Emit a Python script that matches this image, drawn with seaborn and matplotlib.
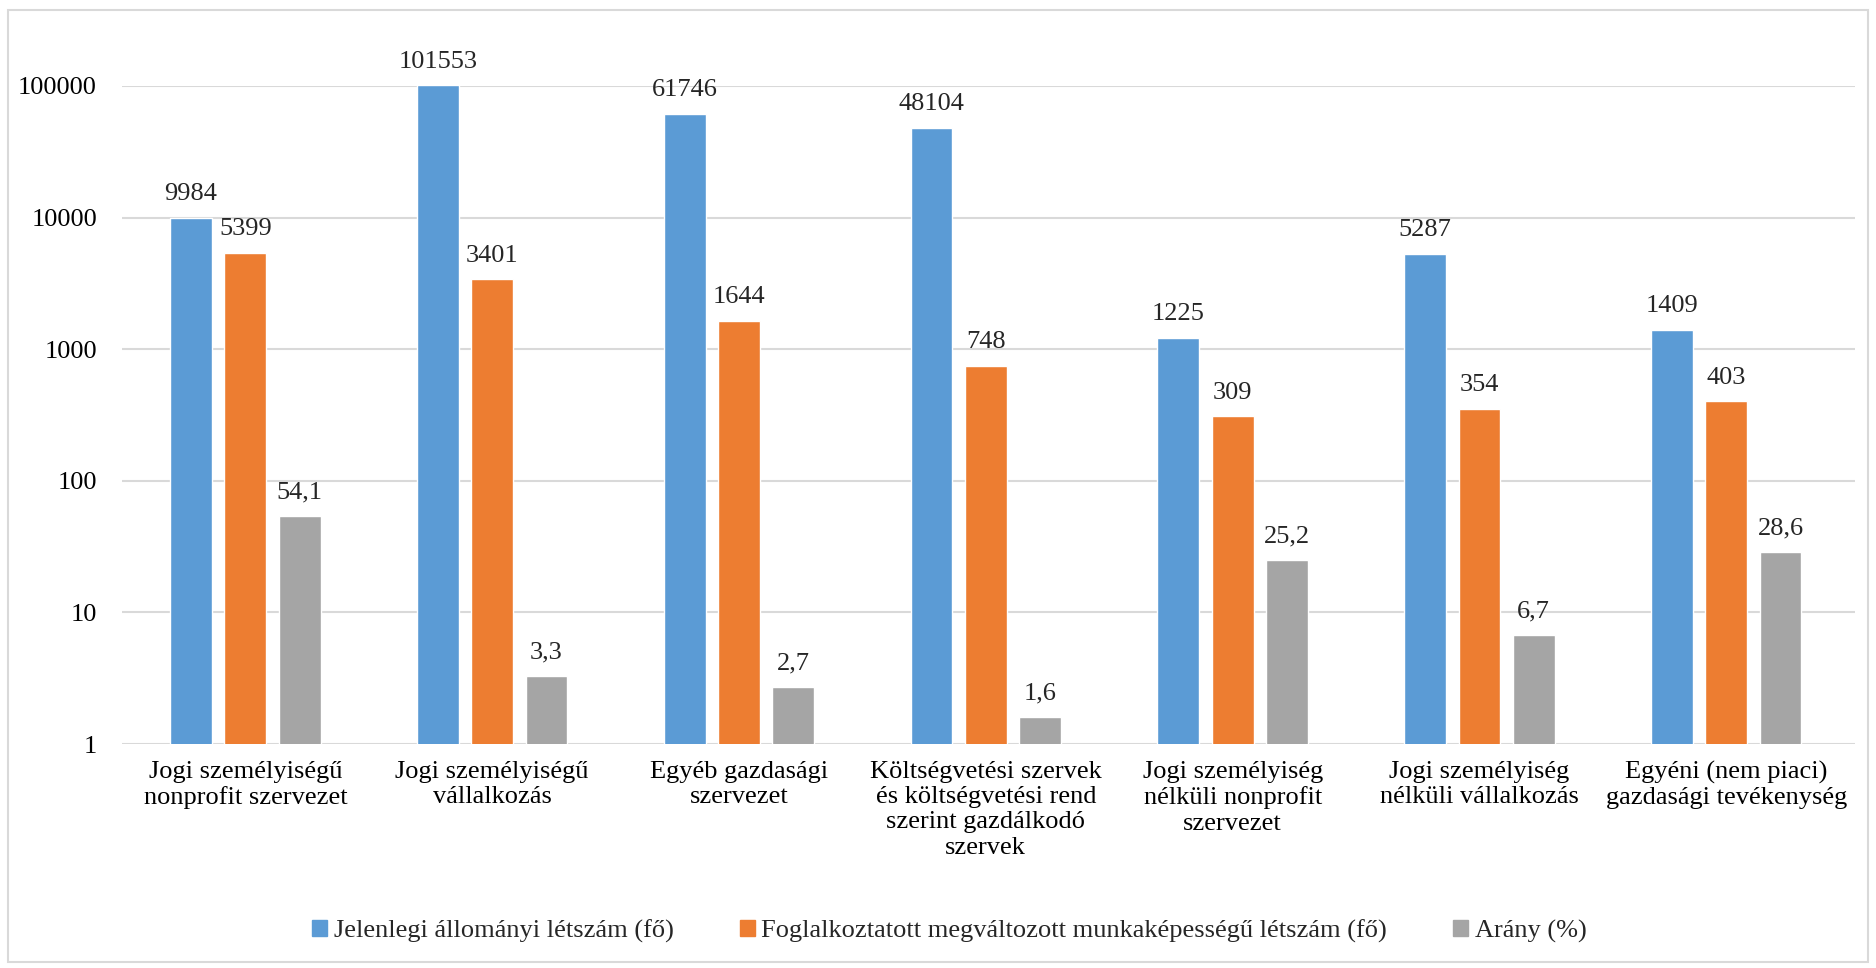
import pandas as pd
import matplotlib.pyplot as plt
import seaborn as sns
from matplotlib.patches import Rectangle, Patch

categories = [
    "Jogi személyiségű\nnonprofit szervezet",
    "Jogi személyiségű\nvállalkozás",
    "Egyéb gazdasági\nszervezet",
    "Költségvetési szervek\nés költségvetési rend\nszerint gazdálkodó\nszervek",
    "Jogi személyiség\nnélküli nonprofit\nszervezet",
    "Jogi személyiség\nnélküli vállalkozás",
    "Egyéni (nem piaci)\ngazdasági tevékenység",
]
series_names = [
    "Jelenlegi állományi létszám (fő)",
    "Foglalkoztatott megváltozott munkaképességű létszám (fő)",
    "Arány (%)",
]
letszam = [9984, 101553, 61746, 48104, 1225, 5287, 1409]
mk_letszam = [5399, 3401, 1644, 748, 309, 354, 403]
arany = [54.1, 3.3, 2.7, 1.6, 25.2, 6.7, 28.6]
colors = ["#5B9BD5", "#ED7D31", "#A5A5A5"]
y_ticks = [1, 10, 100, 1000, 10000, 100000]

rows = []
for name, vals in zip(series_names, [letszam, mk_letszam, arany]):
    for cat, v in zip(categories, vals):
        rows.append({"cat": cat, "series": name, "value": v})
df = pd.DataFrame(rows)

sns.set_style("white")
plt.rcParams["font.family"] = ["Liberation Serif", "DejaVu Serif"]
fs = 19

fig = plt.figure(figsize=(18.76, 9.68), dpi=100)
ax = fig.add_axes([0.065, 0.2314, 0.9236, 0.6798])

sns.barplot(data=df, x="cat", y="value", hue="series", palette=colors,
            width=0.66, gap=0.23, ax=ax, legend=False, saturation=1)
ax.set_yscale("log")

ax.set_ylim(1, 100000)
ax.set_xlim(-0.5, 6.52)
ax.set_yticks(y_ticks)
ax.set_yticklabels([str(t) for t in y_ticks])
ax.minorticks_off()
ax.yaxis.grid(True, color="#D9D9D9", lw=1.5)
ax.set_axisbelow(True)
for s in ax.spines.values():
    s.set_visible(False)
ax.tick_params(axis="both", length=0, labelsize=fs, colors="#000000")
ax.tick_params(axis="y", pad=18)
ax.tick_params(axis="x", pad=12)
ax.set_xticks(range(len(categories)))
ax.set_xticklabels(categories, linespacing=1.2)
ax.set_xlabel("")
ax.set_ylabel("")

# adatcímkék (az első két sor egész, az arány tizedesvesszővel)
fmts = [lambda v: f"{v:.0f}", lambda v: f"{v:.0f}",
        lambda v: f"{v:.1f}".replace(".", ",")]
for cont, f in zip(ax.containers, fmts):
    ax.bar_label(cont, labels=[f(b.get_height()) for b in cont],
                 padding=9, fontsize=fs, annotation_clip=False)

handles = [Patch(color=c, label=n) for c, n in zip(colors, series_names)]
fig.legend(handles=handles, loc="center", bbox_to_anchor=(0.506, 0.038),
           ncol=3, frameon=False, fontsize=fs, handlelength=0.57,
           handleheight=0.57, handletextpad=0.25, columnspacing=2.5)

fig.add_artist(Rectangle((0.004, 0.006), 0.992, 0.984, transform=fig.transFigure,
                         fill=False, ec="#D9D9D9", lw=1.5))

fig.savefig("out.png", dpi=100)
